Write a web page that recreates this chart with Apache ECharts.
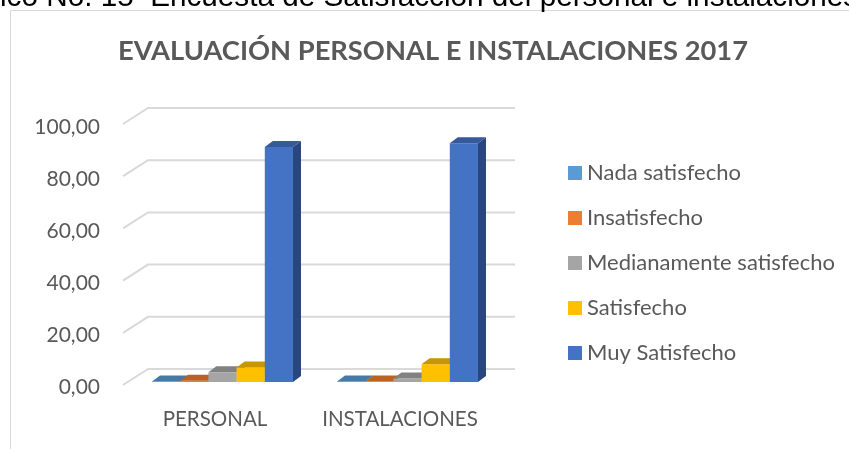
<!DOCTYPE html>
<html>
<head>
<meta charset="utf-8">
<script src="https://cdn.jsdelivr.net/npm/echarts@6/dist/echarts.min.js"></script>
<style>
  html, body { margin: 0; padding: 0; background: #fff; }
  #grafico { width: 849px; height: 449px; }
</style>
</head>
<body>
<div id="grafico"></div>
<script>
// datos
const categorias = ["PERSONAL", "INSTALACIONES"];
const nombresSeries = ["Nada satisfecho", "Insatisfecho", "Medianamente satisfecho", "Satisfecho", "Muy Satisfecho"];
const nadaSatisfecho = [0.2, 0.2];
const insatisfecho = [0.5, 0.2];
const medianamente = [3.7, 1.3];
const satisfecho = [5.6, 6.8];
const muySatisfecho = [90.0, 91.5];
const valoresEje = [0, 20, 40, 60, 80, 100];

const valores = [nadaSatisfecho, insatisfecho, medianamente, satisfecho, muySatisfecho];
const colores = ["#5B9BD5", "#ED7D31", "#A5A5A5", "#FFC000", "#4472C4"];

function oscurecer(hex, f) {
    const n = parseInt(hex.slice(1), 16);
    const r = Math.round(((n >> 16) & 255) * f);
    const g = Math.round(((n >> 8) & 255) * f);
    const b = Math.round((n & 255) * f);
    return `rgb(${r},${g},${b})`;
}

const DX = 8, DY = -6;   // profundidad de las columnas

const chart = echarts.init(document.getElementById('grafico'));

// columnas 3D: cara frontal, superior y lateral
const seriesBarras = nombresSeries.map((nombre, i) => ({
    name: nombre,
    type: 'custom',
    z: 3,
    itemStyle: { color: colores[i] },
    data: valores[i].map((v, c) => [c, v]),
    renderItem: (params, api) => {
        const c = api.value(0), v = api.value(1);
        const base = api.coord([c, 0]);
        const top = api.coord([c, v]);
        const banda = api.size([1, 0])[0];
        const w = banda * 0.762 / 5;
        const x0 = base[0] - 2.5 * w + i * w;
        const x1 = x0 + w;
        const yT = top[1], yB = base[1];
        return {
            type: 'group',
            children: [
                { type: 'polygon', shape: { points: [[x1, yT], [x1 + DX, yT + DY], [x1 + DX, yB + DY], [x1, yB]] },
                  style: { fill: oscurecer(colores[i], 0.62) } },
                { type: 'rect', shape: { x: x0, y: yT, width: w, height: yB - yT },
                  style: { fill: colores[i] } },
                { type: 'polygon', shape: { points: [[x0, yT], [x0 + DX, yT + DY], [x1 + DX, yT + DY], [x1, yT]] },
                  style: { fill: oscurecer(colores[i], 0.78) } }
            ]
        };
    }
}));

// lineas de division en la pared del fondo
const serieRejilla = {
    type: 'custom',
    silent: true,
    z: 1,
    data: valoresEje.map(v => [0, v]),
    renderItem: (params, api) => {
        const cs = params.coordSys;
        const y = api.coord([0, api.value(1)])[1];
        return {
            type: 'polyline',
            shape: { points: [[cs.x - 7, y + 3], [cs.x + 18, y - 13], [cs.x + cs.width + 15, y - 13]] },
            style: { stroke: '#d9d9d9', lineWidth: 2, fill: null }
        };
    }
};

chart.setOption({
    animation: false,
    graphic: [
        { type: 'rect', shape: { x: 10.5, y: 10.5, width: 900, height: 500 },
          style: { fill: null, stroke: '#d9d9d9', lineWidth: 1 } },
        { type: 'text', left: 0, top: -17,
          style: { text: 'ico No. 15  Encuesta de Satisfacción del personal e instalaciones',
                   font: '29.7px "Liberation Sans"', fill: '#000' } },
        { type: 'text', x: 433, y: 51,
          style: { text: 'EVALUACIÓN PERSONAL E INSTALACIONES 2017', font: 'bold 27.3px Lato',
                   fill: '#595959', align: 'center', verticalAlign: 'middle' } }
    ],
    legend: {
        orient: 'vertical',
        left: 563,
        top: 157,
        itemWidth: 14,
        itemHeight: 14,
        itemGap: 23,
        icon: 'rect',
        data: nombresSeries,
        textStyle: { fontFamily: 'Lato', fontSize: 22, color: '#595959' }
    },
    grid: [
        { left: 130, width: 370, top: 121, height: 261 },
        { left: 130, width: 370, top: 127, height: 260 }
    ],
    xAxis: [{
        type: 'category',
        data: categorias,
        axisLine: { show: false },
        axisTick: { show: false },
        axisLabel: { interval: 0, fontFamily: 'Lato', fontSize: 20.5, color: '#595959', margin: 27, padding: [0, 15, 0, 0] }
    }, {
        gridIndex: 1, type: 'category', data: categorias, show: false
    }],
    yAxis: [{
        type: 'value',
        min: 0,
        max: 100,
        interval: 20,
        splitLine: { show: false },
        axisLine: { show: false },
        axisTick: { show: false },
        axisLabel: { show: false }
    }, {
        // plano frontal, solo etiquetas
        gridIndex: 1,
        type: 'value',
        min: 0,
        max: 100,
        interval: 20,
        splitLine: { show: false },
        axisLine: { show: false },
        axisTick: { show: false },
        axisLabel: {
            fontFamily: 'Lato', fontSize: 21, color: '#595959', margin: 30,
            formatter: v => v.toFixed(2).replace('.', ',')
        }
    }],
    series: [serieRejilla, ...seriesBarras]
});
</script>
</body>
</html>
